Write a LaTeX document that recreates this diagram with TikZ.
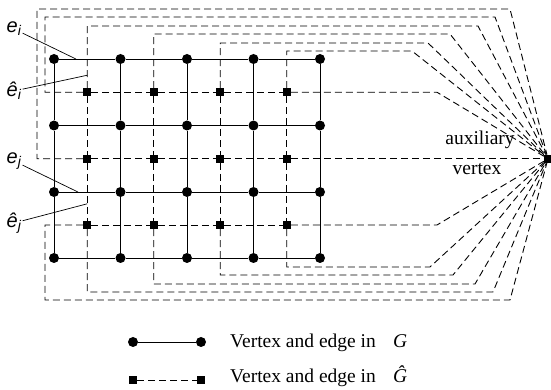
\documentclass[tikz,border=0pt]{standalone}
\usepackage{fontspec}
\setmainfont{Liberation Serif}
\setsansfont{Liberation Sans}
\usetikzlibrary{calc}
\begin{document}
\begin{tikzpicture}[x=1pt,y=1pt,
  gvert/.style={circle,fill=black,inner sep=0pt,minimum size=10pt},
  dvert/.style={rectangle,fill=black,inner sep=0pt,minimum size=8pt},
  gedge/.style={line width=0.9pt},
  dedge/.style={line width=0.9pt,dash pattern=on 7pt off 4pt},
  lead/.style={line width=0.7pt},
  lbl/.style={font=\fontsize{20}{20}\selectfont\sffamily\itshape,inner sep=1pt},
  txt/.style={font=\fontsize{19.5}{20}\selectfont,inner sep=0pt}]
\path[use as bounding box] (0,0) rectangle (551,390);

% vertices of G
\foreach \i/\x in {0/54,1/120.5,2/187,3/253.5,4/320}
  \foreach \j/\y in {0/331,1/264.5,2/198,3/132}
    \node[gvert] (v-\i-\j) at (\x,\y) {};

% edges of G
\foreach \i in {0,...,4}
  \foreach \j [count=\k] in {0,1,2}
    \draw[gedge] (v-\i-\j) -- (v-\i-\k);
\foreach \j in {0,...,3}
  \foreach \i [count=\k] in {0,...,3}
    \draw[gedge] (v-\i-\j) -- (v-\k-\j);

% vertices of G hat
\foreach \i/\x in {0/87.25,1/153.75,2/220.25,3/286.75}
  \foreach \j/\y in {0/297.75,1/231.25,2/165}
    \node[dvert] (s-\i-\j) at (\x,\y) {};
\node[dvert] (aux) at (548,231.25) {};

% inner edges of G hat
\foreach \i [count=\k] in {0,1,2}
  \foreach \j in {0,1,2}
    \draw[dedge] (s-\i-\j) -- (s-\k-\j);
\foreach \i in {0,...,3}
  \foreach \j [count=\k] in {0,1}
    \draw[dedge] (s-\i-\j) -- (s-\i-\k);

% edges to the auxiliary vertex
\draw[dedge] (s-3-0) -- (437,297.75) -- (aux);
\draw[dedge] (s-3-1) -- (aux);
\draw[dedge] (s-3-2) -- (437,165) -- (aux);
\foreach \i/\y/\x in {0/364/478,1/356/450,2/347/428,3/339/412}
  \draw[dedge] (s-\i-0) |- (\x,\y) -- (aux);
\foreach \i/\y/\x in {0/98/493,1/106/475,2/115/453,3/123/430}
  \draw[dedge] (s-\i-2) |- (\x,\y) -- (aux);
\draw[dedge] (s-0-0) -- (45,297.75) -- (45,373) -- (495,373) -- (aux);
\draw[dedge] (s-0-1) -- (37,231.25) -- (37,381) -- (510,381) -- (aux);
\draw[dedge] (s-0-2) -- (45,165) -- (45,90) -- (510,90) -- (aux);

% labels
\coordinate (ei-end) at ($(v-0-0)!0.33!(v-1-0)$);
\coordinate (hei-end) at ($(s-0-0)+(0,17)$);
\coordinate (ej-end) at ($(v-0-2)!0.36!(v-1-2)$);
\coordinate (hej-end) at ($(s-0-1)!0.68!(s-0-2)$);
\node[lbl] (ei) at (14,361) {e\textsubscript{i}};
\node[lbl] (hei) at (14,299) {\^e\textsubscript{i}};
\node[lbl] (ej) at (14,229) {e\textsubscript{j}};
\node[lbl] (hej) at (14,167) {\^e\textsubscript{j}};
\draw[lead] (ei) -- (ei-end);
\draw[lead] (hei) -- (hei-end);
\draw[lead] (ej) -- (ej-end);
\draw[lead] (hej) -- (hej-end);

\node[txt,anchor=base] (aux-a) at (480,245) {auxiliary};
\node[txt,anchor=base] (aux-b) at (477,215) {vertex};

% legend
\node[gvert] (lg-a) at (133,48) {};
\node[gvert] (lg-b) at (201,48) {};
\draw[gedge] (lg-a) -- (lg-b);
\node[dvert] (ld-a) at (133,10) {};
\node[dvert] (ld-b) at (201,10) {};
\draw[dedge] (ld-a) -- (ld-b);
\node[txt,anchor=base west] (lg-txt) at (230,42) {Vertex and edge in};
\node[txt,anchor=base west] (lg-g) at (393,42) {\textit{G}};
\node[txt,anchor=base west] (ld-txt) at (230,7) {Vertex and edge in};
\node[txt,anchor=base west] (ld-g) at (393,7) {\textit{\^G}};
\end{tikzpicture}
\end{document}
